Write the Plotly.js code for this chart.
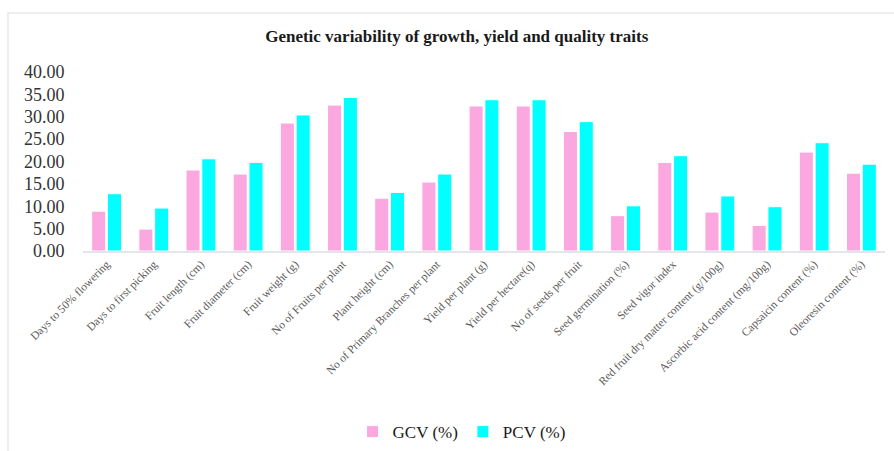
<!DOCTYPE html>
<html>
<head>
<meta charset="utf-8">
<script src="https://cdn.plot.ly/plotly-3.0.1.min.js"></script>
<style>
  html, body { margin: 0; padding: 0; background: #fff; }
  #chart { width: 894px; height: 451px; }
</style>
</head>
<body>
<div id="chart"></div>
<script>
const categories = [
  "Days to 50% flowering",
  "Days to first picking",
  "Fruit length (cm)",
  "Fruit diameter (cm)",
  "Fruit weight (g)",
  "No of Fruits per plant",
  "Plant height (cm)",
  "No of Primary Branches per plant",
  "Yield per plant (g)",
  "Yield per hectare(q)",
  "No of seeds per fruit",
  "Seed germination (%)",
  "Seed vigor index",
  "Red fruit dry matter content (g/100g)",
  "Ascorbic acid content (mg/100g)",
  "Capsaicin content (%)",
  "Oleoresin content (%)"
];
const gcv = [8.9, 4.9, 18.1, 17.2, 28.6, 32.6, 11.8, 15.4, 32.4, 32.4, 26.7, 7.9, 19.8, 8.7, 5.7, 22.1, 17.4];
const pcv = [12.8, 9.6, 20.6, 19.8, 30.4, 34.3, 13.1, 17.2, 33.8, 33.8, 28.9, 10.1, 21.3, 12.3, 9.9, 24.2, 19.4];
const seriesNames = ["GCV (%)", "PCV (%)"];
const tickValues = [0, 5, 10, 15, 20, 25, 30, 35, 40];

const serif = "Liberation Serif";

const traces = [
  {
    type: "bar", name: seriesNames[0], x: categories, y: gcv,
    marker: { color: "#FCA8E0", line: { color: "#ffffff", width: 1 } }
  },
  {
    type: "bar", name: seriesNames[1], x: categories, y: pcv,
    marker: { color: "#00FFFF", line: { color: "#ffffff", width: 1 } }
  }
];

const layout = {
  width: 894, height: 451,
  margin: { l: 83, r: 9, t: 72, b: 200 },
  paper_bgcolor: "#ffffff", plot_bgcolor: "#ffffff",
  title: {
    text: "<b>Genetic variability of growth, yield and quality traits</b>",
    font: { family: serif, size: 17, color: "#1a1a1a" },
    x: 0.466, xref: "paper", xanchor: "center", y: 39, yref: "container", yanchor: "middle"
  },
  font: { family: serif },
  barmode: "group", bargap: 0.33, bargroupgap: 0.11,
  xaxis: {
    tickangle: -45,
    tickfont: { family: serif, size: 11.5, color: "#595959" },
    showgrid: false, zeroline: false,
    showline: true, linecolor: "#e3e5ea", linewidth: 2,
    ticks: "", automargin: false
  },
  yaxis: {
    range: [0, 40], tickvals: tickValues, tickformat: ".2f",
    tickfont: { family: serif, size: 18, color: "#333333" },
    showgrid: false, zeroline: false, showline: false,
    ticks: "outside", ticklen: 14, tickcolor: "rgba(0,0,0,0)",
    automargin: false
  },
  legend: {
    orientation: "h", x: 0.472, xanchor: "center",
    yref: "container", y: 0.042, yanchor: "middle",
    font: { family: serif, size: 17, color: "#1a1a1a" },
    itemwidth: 30, traceorder: "normal"
  },
  showlegend: true,
  shapes: [{
    type: "rect", xref: "paper", yref: "paper",
    x0: -0.0935, x1: 1.05, y0: -1.6, y1: 1.33,
    line: { color: "#e6e9ee", width: 1.5 }, fillcolor: "rgba(0,0,0,0)", layer: "below"
  }]
};

Plotly.newPlot("chart", traces, layout, { displayModeBar: false, staticPlot: true });
</script>
</body>
</html>
